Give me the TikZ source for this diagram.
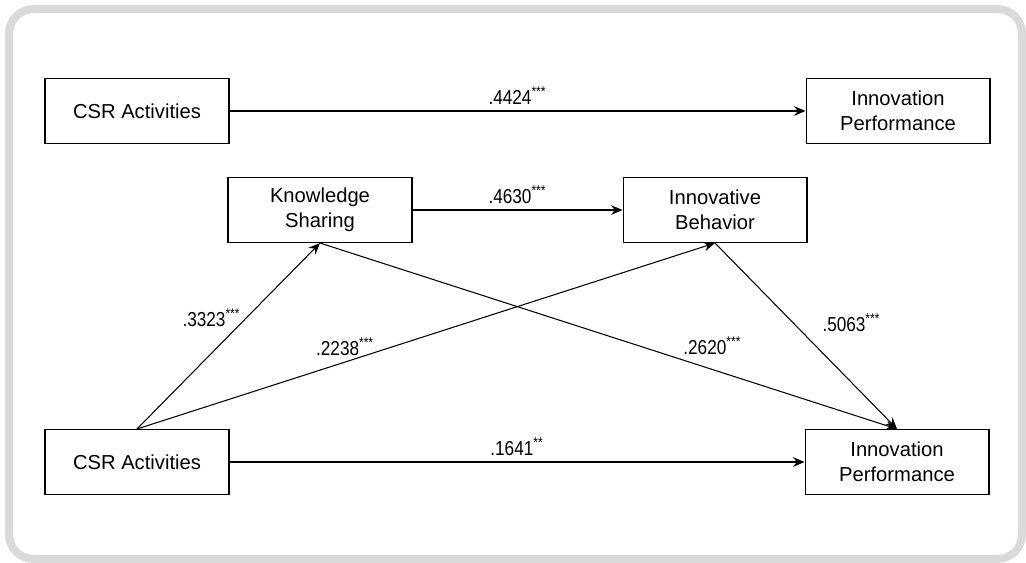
\documentclass[tikz,border=0pt]{standalone}
\usepackage{fontspec}
\setmainfont{Liberation Sans}
\newfontfamily\coeffont[FakeStretch=0.85]{Liberation Sans}
\usetikzlibrary{arrows.meta}
\definecolor{framegray}{HTML}{DADADA}

\begin{document}
\begin{tikzpicture}[x=0.02cm,y=-0.02cm,line width=0.6pt,
        box/.style={draw,line width=0.6pt,minimum width=3.68cm,minimum height=1.3cm,
            align=center,font=\fontsize{11.5}{14.5}\selectfont},
        coef/.style={font=\coeffont\fontsize{11.5}{13}\selectfont},
        link/.style={-{Stealth[length=6.5pt,width=5.5pt]}}]
    \useasboundingbox (0,0) rectangle (1026,562);
    \draw[framegray,line width=4.5pt,rounded corners=14pt] (9,9) rectangle (1022,559);

    \begin{scope}[every node/.style=box]
        \node (csrA) at (137,111) {CSR Activities};
        \node (ipA) at (898,111) {Innovation\\Performance};
        \node (ks) at (320,210) {Knowledge\\Sharing};
        \node (ib) at (715,210) {Innovative\\Behavior};
        \node (csrB) at (137,462) {CSR Activities};
        \node (ipB) at (897,462) {Innovation\\Performance};
    \end{scope}

    \path[link] (csrA) edge node[coef,above] {.4424\textsuperscript{***}} (ipA);
    \path[link] (ks) edge node[coef,above] {.4630\textsuperscript{***}} (ib);
    \path[link] (csrB.north) edge node[coef,left,pos=0.6] {.3323\textsuperscript{***}} (ks.south);
    \path[link] (csrB.north) edge node[coef,above,pos=0.36] {.2238\textsuperscript{***}} (ib.south);
    \path[link] (ks.south) edge node[coef,above=5pt,pos=0.68] {.2620\textsuperscript{***}} (ipB.north);
    \path[link] (ib.south) edge node[coef,right=13pt,pos=0.43] {.5063\textsuperscript{***}} (ipB.north);
    \path[link] (csrB) edge node[coef,above] {.1641\textsuperscript{**}} (ipB);
\end{tikzpicture}
\end{document}
